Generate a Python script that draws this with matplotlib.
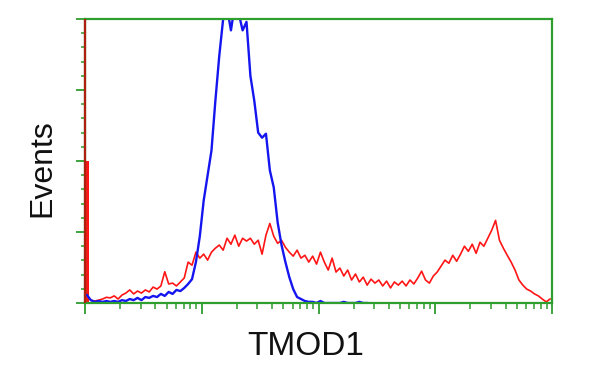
import numpy as np
import matplotlib
matplotlib.use("Agg")
import matplotlib.pyplot as plt
from matplotlib.ticker import MultipleLocator, LogLocator, NullFormatter

# ---- data (histogram counts on a 4-decade log channel grid, 120 channels) ----
n_channels = 120
decades = 4

red_counts = [
    50, 1, 0.7, 1, 1.4, 2, 1.8, 2.5, 1.4, 2.8,
    3.5, 4.6, 3.2, 4.2, 3.5, 4.6, 3.9, 5.6, 4.9, 6,
    11, 6.7, 7, 6, 7.4, 8.8, 14.4, 13.3, 17.9, 15.8,
    17.2, 15.1, 17.9, 19.3, 20.4, 18.6, 22.8, 20.7, 23.9, 20,
    22.8, 21.8, 22.8, 20.7, 22.1, 17.2, 23.9, 28, 23.5, 21,
    22.1, 19.6, 17.9, 16.5, 18.6, 15.8, 16.8, 14.4, 16.5, 13.7,
    17.9, 14.4, 11.6, 15.8, 10.9, 12.3, 9.5, 11.6, 8.1, 10.2,
    7.4, 9.1, 6.3, 8.4, 7, 8.1, 6, 7.7, 5.3, 7.4,
    6.3, 7.7, 6, 8.1, 6.7, 8.8, 11.2, 8.1, 7, 9.5,
    10.9, 13, 15.1, 14, 16.8, 14.7, 17.2, 20, 18.2, 20.7,
    17.5, 21.4, 20, 22.8, 25.6, 29.1, 22.1, 19.3, 16.8, 14.4,
    11.6, 8.1, 6.3, 4.9, 4.2, 3.2, 2.5, 1.4, 0.4, 1.4,
]

blue_counts = [
    2.8, 1, 0.4, 0.7, 0.4, 0.7, 0.4, 0.7, 0.4, 1,
    0.7, 1.4, 1, 1.8, 1, 2.1, 1.8, 2.5, 2.1, 3.2,
    2.5, 3.9, 3.2, 4.6, 4.2, 5.3, 6.7, 8.4, 14.4, 23.5,
    36.1, 44.9, 53.7, 71.2, 87, 100, 104, 96, 105, 102,
    96, 99, 80, 71.2, 60, 58.2, 59.6, 46.7, 40.7, 28.4,
    20.4, 14.4, 9.1, 4.9, 2.1, 1.4, 0.7, 0.4, 0.4, 0,
    0.7, 0, 0, 0, 0, 0, 0.4, 0, 0, 0,
    0.4, 0, 0,
]

# off-scale pile-up of the red sample in the first channel
red_pileup_x = [1.0]
red_pileup_count = [180]

x_label = "TMOD1"
y_label = "Events"
y_max = 100

# ---- figure ----
plt.rcParams['font.family'] = ['Liberation Sans', 'DejaVu Sans']
fig = plt.figure(figsize=(6, 3.75), dpi=100)
ax = fig.add_axes([85 / 600, 1 - 303 / 375, (552 - 85) / 600, (303 - 19) / 375])

edges = np.logspace(0, decades, n_channels + 1)
centers = np.sqrt(edges[:-1] * edges[1:])
green = '#2e9e2e'
red = '#ff1515'
blue = '#1515f0'

# first red channel (pile-up bar) as a filled step, rest as a jagged trace
ax.stairs(red_counts[:1], edges[:2], color=red, fill=True, zorder=2)
ax.plot(centers[1:len(red_counts)], red_counts[1:], color=red, lw=1.2, zorder=2)
ax.vlines(red_pileup_x, 0, np.minimum(red_pileup_count, y_max), color='#b02010',
          lw=1.6, zorder=3, clip_on=False)
ax.plot(centers[:len(blue_counts)], blue_counts, color=blue, lw=1.7, zorder=2.2)

ax.set_xscale('log')
ax.set_xlim(edges[0], edges[-1])
ax.set_ylim(0, y_max)

ax.xaxis.set_major_locator(LogLocator(base=10, numticks=10))
ax.xaxis.set_minor_locator(LogLocator(base=10, subs=np.arange(2, 10), numticks=20))
ax.xaxis.set_major_formatter(NullFormatter())
ax.xaxis.set_minor_formatter(NullFormatter())
ax.yaxis.set_major_locator(MultipleLocator(25))
ax.yaxis.set_minor_locator(MultipleLocator(5))
ax.yaxis.set_major_formatter(NullFormatter())

for s in ax.spines.values():
    s.set_color(green)
    s.set_linewidth(1.6)

ax.tick_params(axis='x', which='major', direction='out', length=8, width=1.3, color=green)
ax.tick_params(axis='x', which='minor', direction='out', length=4, width=1.1, color=green)
ax.tick_params(axis='y', which='major', direction='out', length=6.5, width=1.3, color=green)
ax.tick_params(axis='y', which='minor', direction='out', length=3, width=1.1, color=green)
ax.tick_params(labelbottom=False, labelleft=False)

fig.text(306 / 600, 1 - 355 / 375, x_label, fontsize=24, ha='center', va='baseline', color='#111111')
fig.text(42 / 600, 1 - 168.5 / 375, y_label, fontsize=23, ha='center', va='center',
         rotation=90, rotation_mode='anchor', color='#111111')

fig.savefig('out.png', dpi=100, facecolor='white')
